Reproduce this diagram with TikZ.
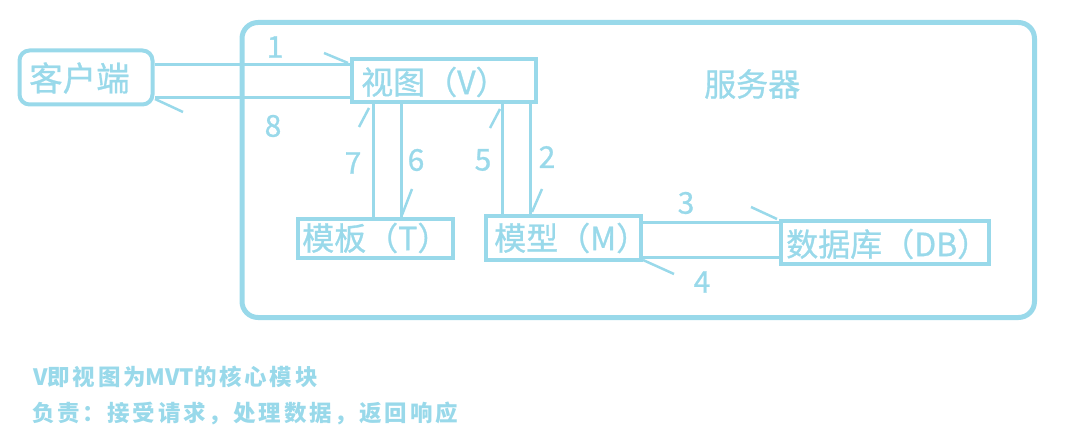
\documentclass[tikz,border=0pt]{standalone}
\usepackage{fontspec}
\newfontfamily\cjk[FakeBold=0.9]{Noto Sans CJK SC}
\newfontfamily\cjkb{Noto Sans CJK SC}
\newfontfamily\cjksp[LetterSpace=12]{Noto Sans CJK SC}
\definecolor{paint}{RGB}{153,217,234}
\tikzset{
  box/.style={draw=paint, line width=4pt, inner sep=0pt},
  lbl/.style={text=paint, inner sep=0pt, anchor=west, font=\cjk\fontsize{32}{34}\selectfont},
  conn/.style={draw=paint, line width=3pt},
  barb/.style={draw=paint, line width=2.5pt},
  num/.style={text=paint, inner sep=0pt, font=\cjk\fontsize{30}{32}\selectfont},
  note/.style={text=paint, inner sep=0pt, anchor=west, font=\cjksp\bfseries\fontsize{22.5}{24}\selectfont}
}
\newcommand{\lat}[1]{{\cjkb\bfseries #1}}
\begin{document}
\begin{tikzpicture}[x=1pt,y=-1pt]
\useasboundingbox (0,0) rectangle (1090,441);
% server frame
\node[draw=paint, line width=5pt, rounded corners=16pt, minimum width=792.5pt, minimum height=295pt, inner sep=0pt] (server) at (638.25,170) {};
\node[lbl] (srvlbl) at (704,84) {服务器};
% boxes
\node[box, rounded corners=10pt, minimum width=133pt, minimum height=54pt] (client) at (86,77.5) {};
\node[lbl, font=\cjk\fontsize{33.5}{36}\selectfont] (clientlbl) at (29,78) {客户端};
\node[box, minimum width=184pt, minimum height=43pt] (view) at (444,80.5) {};
\node[lbl] (viewlbl) at (361,82) {视图（V）};
\node[box, minimum width=155pt, minimum height=39pt] (tmpl) at (375.5,238.5) {};
\node[lbl] (tmpllbl) at (302,238) {模板（T）};
\node[box, minimum width=155pt, minimum height=44pt] (model) at (563.5,238) {};
\node[lbl] (modellbl) at (494,238) {模型（M）};
\node[box, minimum width=208pt, minimum height=43pt] (db) at (885,242.5) {};
\node[lbl] (dblbl) at (786,244) {数据库（DB）};
% connectors
\draw[conn] (client.east |- 0,65) -- (view.west |- 0,65);
\draw[conn] (view.west |- 0,98) -- (client.east |- 0,98);
\draw[conn] (tmpl.north -| 373,0) -- (view.south -| 373,0);
\draw[conn] (view.south -| 401,0) -- (tmpl.north -| 401,0);
\draw[conn] (model.north -| 502,0) -- (view.south -| 502,0);
\draw[conn] (view.south -| 530,0) -- (model.north -| 530,0);
\draw[conn] (model.east |- 0,222) -- (db.west |- 0,222);
\draw[conn] (db.west |- 0,257) -- (model.east |- 0,257);
% barbs
\draw[barb] (324,53) -- (348,63);
\draw[barb] (155,99) -- (183,112);
\draw[barb] (359,127) -- (369,108);
\draw[barb] (412,189) -- (402,215);
\draw[barb] (490,128) -- (500,109);
\draw[barb] (542,189) -- (532,212);
\draw[barb] (751,207) -- (777,219);
\draw[barb] (643,260) -- (674,274);
% labels
\node[num] (n1) at (275,47) {1};
\node[num] (n8) at (273,126) {8};
\node[num] (n7) at (353,163) {7};
\node[num] (n6) at (416,160) {6};
\node[num] (n5) at (483,160) {5};
\node[num] (n2) at (547,157) {2};
\node[num] (n3) at (686,203) {3};
\node[num] (n4) at (702,282) {4};
% notes
\node[note] (note1) at (33,377) {\lat{V}即视图为\lat{MVT}的核心模块};
\node[note] (note2) at (32,413) {负责：接受请求，处理数据，返回响应};
\end{tikzpicture}
\end{document}
